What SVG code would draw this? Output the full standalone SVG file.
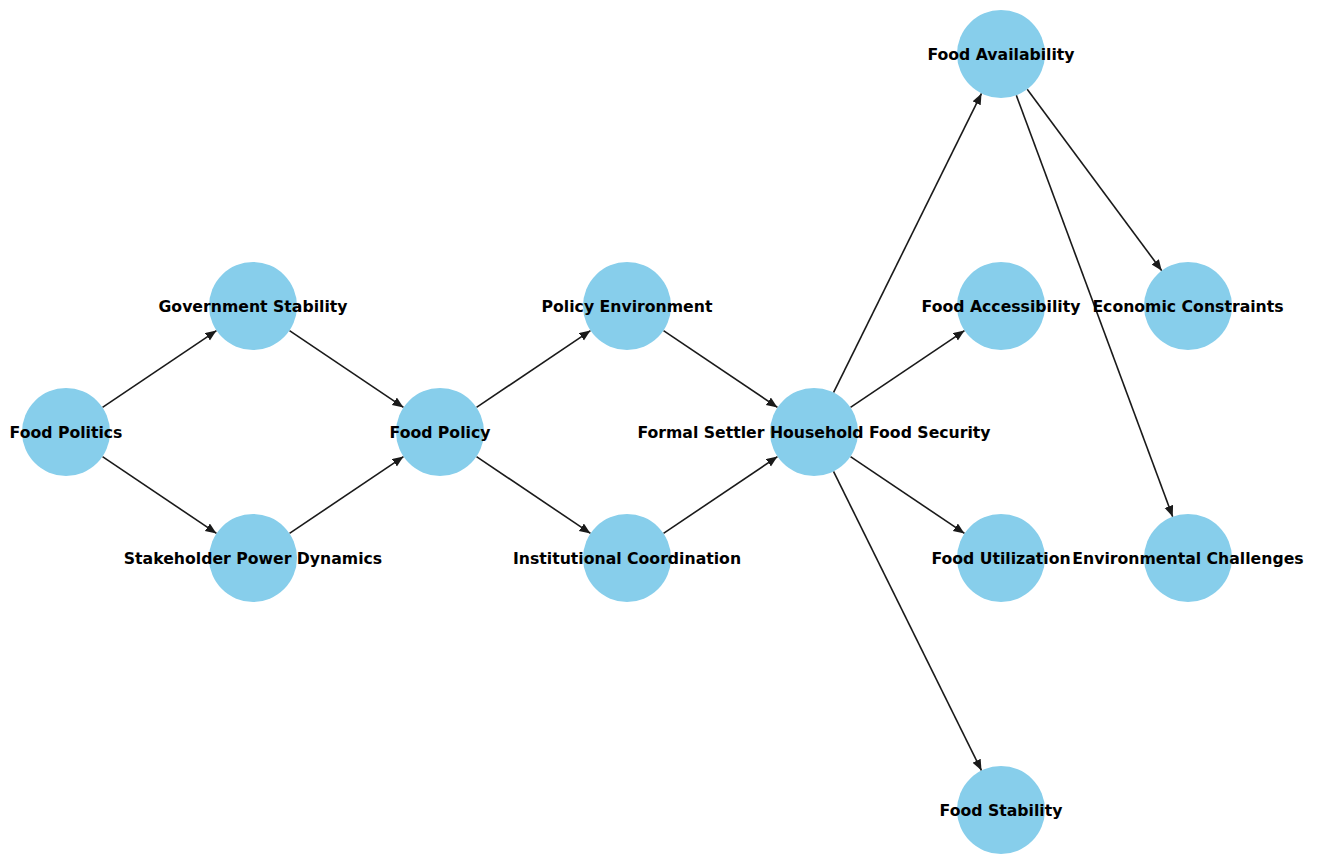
<svg xmlns="http://www.w3.org/2000/svg" width="1322" height="855" viewBox="0 0 1322 855">
<style>
.n{fill:#87ceeb;}
.t{font-family:"DejaVu Sans",sans-serif;font-weight:bold;font-size:15.7px;fill:#000;text-anchor:middle;dominant-baseline:central;}
.e{stroke:#1a1a1a;stroke-width:1.6;fill:none;marker-end:url(#ah);}
</style>
<defs>
<marker id="ah" markerUnits="userSpaceOnUse" markerWidth="12" markerHeight="10" refX="11" refY="4.5" orient="auto">
<path d="M0,0 L11,4.5 L0,9 Z" fill="#1a1a1a"/>
</marker>
</defs>
<rect width="1322" height="855" fill="#fff"/>
<g id="connectors">
<line class="e" x1="102.5" y1="407.4" x2="216.5" y2="330.6"/>
<line class="e" x1="102.5" y1="456.6" x2="216.5" y2="533.4"/>
<line class="e" x1="289.5" y1="330.6" x2="403.5" y2="407.4"/>
<line class="e" x1="289.5" y1="533.4" x2="403.5" y2="456.6"/>
<line class="e" x1="476.5" y1="407.4" x2="590.5" y2="330.6"/>
<line class="e" x1="476.5" y1="456.6" x2="590.5" y2="533.4"/>
<line class="e" x1="663.5" y1="330.6" x2="777.5" y2="407.4"/>
<line class="e" x1="663.5" y1="533.4" x2="777.5" y2="456.6"/>
<line class="e" x1="833.5" y1="392.6" x2="981.5" y2="93.4"/>
<line class="e" x1="850.5" y1="407.4" x2="964.5" y2="330.6"/>
<line class="e" x1="850.5" y1="456.6" x2="964.5" y2="533.4"/>
<line class="e" x1="833.5" y1="471.4" x2="981.5" y2="770.6"/>
<line class="e" x1="1027.2" y1="89.3" x2="1161.8" y2="270.7"/>
<line class="e" x1="1016.3" y1="95.3" x2="1172.7" y2="516.7"/>
</g>
<g id="food-politics"><circle class="n" cx="66" cy="432" r="44"/><text class="t" x="66" y="432">Food Politics</text></g>
<g id="government-stability"><circle class="n" cx="253" cy="306" r="44"/><text class="t" x="253" y="306">Government Stability</text></g>
<g id="stakeholder-power-dynamics"><circle class="n" cx="253" cy="558" r="44"/><text class="t" x="253" y="558">Stakeholder Power Dynamics</text></g>
<g id="food-policy"><circle class="n" cx="440" cy="432" r="44"/><text class="t" x="440" y="432">Food Policy</text></g>
<g id="policy-environment"><circle class="n" cx="627" cy="306" r="44"/><text class="t" x="627" y="306">Policy Environment</text></g>
<g id="institutional-coordination"><circle class="n" cx="627" cy="558" r="44"/><text class="t" x="627" y="558">Institutional Coordination</text></g>
<g id="household-food-security"><circle class="n" cx="814" cy="432" r="44"/><text class="t" x="814" y="432">Formal Settler Household Food Security</text></g>
<g id="food-availability"><circle class="n" cx="1001" cy="54" r="44"/><text class="t" x="1001" y="54">Food Availability</text></g>
<g id="food-accessibility"><circle class="n" cx="1001" cy="306" r="44"/><text class="t" x="1001" y="306">Food Accessibility</text></g>
<g id="food-utilization"><circle class="n" cx="1001" cy="558" r="44"/><text class="t" x="1001" y="558">Food Utilization</text></g>
<g id="food-stability"><circle class="n" cx="1001" cy="810" r="44"/><text class="t" x="1001" y="810">Food Stability</text></g>
<g id="economic-constraints"><circle class="n" cx="1188" cy="306" r="44"/><text class="t" x="1188" y="306">Economic Constraints</text></g>
<g id="environmental-challenges"><circle class="n" cx="1188" cy="558" r="44"/><text class="t" x="1188" y="558">Environmental Challenges</text></g>
</svg>
